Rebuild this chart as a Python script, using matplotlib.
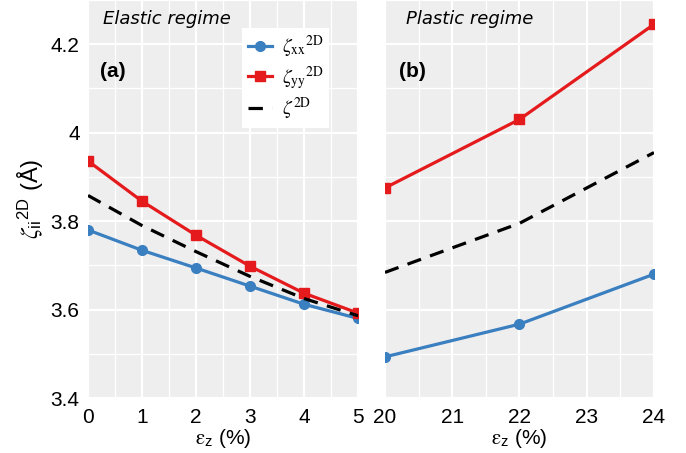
import matplotlib

matplotlib.use("Agg")
import matplotlib.pyplot as plt
from matplotlib.ticker import MultipleLocator

# strain (%) and length values
strain_elastic = [0, 1, 2, 3, 4, 5]
zeta_xx_elastic = [3.780, 3.734, 3.694, 3.653, 3.612, 3.580]
zeta_yy_elastic = [3.936, 3.845, 3.768, 3.698, 3.637, 3.592]
zeta_elastic = [3.858, 3.790, 3.731, 3.675, 3.625, 3.586]

strain_plastic = [20, 22, 24]
zeta_xx_plastic = [3.493, 3.567, 3.680]
zeta_yy_plastic = [3.875, 4.030, 4.245]
zeta_plastic = [3.684, 3.795, 3.955]

BG = "#eeeeee"
BLUE = "#3a7fc0"
RED = "#e41a1c"

plt.rcParams["font.family"] = ["Liberation Sans", "DejaVu Sans"]
plt.rcParams["mathtext.fontset"] = "stix"

fig = plt.figure(figsize=(6.86, 4.53), dpi=100)
ax_a = fig.add_axes([0.1283, 0.1214, 0.3936, 0.8786])
ax_b = fig.add_axes([0.5612, 0.1214, 0.3921, 0.8786], sharey=ax_a)

lab_xx = r"$\zeta_{\rm xx}{}^{\rm 2D}$"
lab_yy = r"$\zeta_{\rm yy}{}^{\rm 2D}$"
lab_z = r"$\zeta^{\rm 2D}$"

for ax, x, xx, yy, zz in (
    (ax_a, strain_elastic, zeta_xx_elastic, zeta_yy_elastic, zeta_elastic),
    (ax_b, strain_plastic, zeta_xx_plastic, zeta_yy_plastic, zeta_plastic),
):
    ax.set_facecolor(BG)
    ax.set_axisbelow(True)
    for side in ax.spines.values():
        side.set_visible(False)
    ax.xaxis.set_major_locator(MultipleLocator(1))
    ax.xaxis.set_minor_locator(MultipleLocator(0.5))
    ax.yaxis.set_minor_locator(MultipleLocator(0.1))
    ax.yaxis.set_major_locator(MultipleLocator(0.2))
    ax.grid(which="major", color="white", linewidth=1.6)
    ax.grid(which="minor", color="white", linewidth=0.9)
    ax.tick_params(which="both", length=0, labelsize=15, colors="black")
    ax.tick_params(axis="x", pad=7)
    ax.tick_params(axis="y", pad=6)

    ax.plot(x, xx, color=BLUE, lw=2.3, marker="o", ms=7, label=lab_xx)
    ax.plot(x, yy, color=RED, lw=2.3, marker="s", ms=7, label=lab_yy)
    ax.plot(x, zz, color="black", lw=2.3, dashes=(4.5, 3), label=lab_z)
    ax.set_xlabel(r"$\mathrm{\varepsilon}_{\mathregular{z}}$ (%)", fontsize=15,
                  labelpad=0)

ax_a.set_xlim(0, 5)
ax_b.set_xlim(20, 24)
ax_a.set_ylim(3.4, 4.3)
ax_a.set_yticks([3.4, 3.6, 3.8, 4.0, 4.2])
ax_a.set_yticklabels(["3.4", "3.6", "3.8", "4", "4.2"])
ax_b.tick_params(axis="y", labelleft=False)
ax_a.set_ylabel(r"$\zeta_{\mathregular{ii}}{}^{\mathregular{2D}}$ (Å)",
                fontsize=17, labelpad=4)

ax_a.text(0.056, 0.975, "Elastic regime", transform=ax_a.transAxes, ha="left",
          va="top", fontsize=13, style="italic", family="DejaVu Sans")
ax_b.text(0.078, 0.975, "Plastic regime", transform=ax_b.transAxes, ha="left",
          va="top", fontsize=13, style="italic", family="DejaVu Sans")
ax_a.text(0.044, 0.82, "(a)", transform=ax_a.transAxes, ha="left", va="center",
          fontsize=15, weight="bold")
ax_b.text(0.052, 0.82, "(b)", transform=ax_b.transAxes, ha="left", va="center",
          fontsize=15, weight="bold")

leg = ax_a.legend(loc="upper left", bbox_to_anchor=(0.57, 0.93), fontsize=14,
                  handlelength=1.25, handletextpad=0.5, labelspacing=0.2,
                  borderpad=0.3, borderaxespad=0, fancybox=False, framealpha=1,
                  edgecolor="white")
leg.get_frame().set_linewidth(0)

fig.savefig("out.png", dpi=100, facecolor="white")
